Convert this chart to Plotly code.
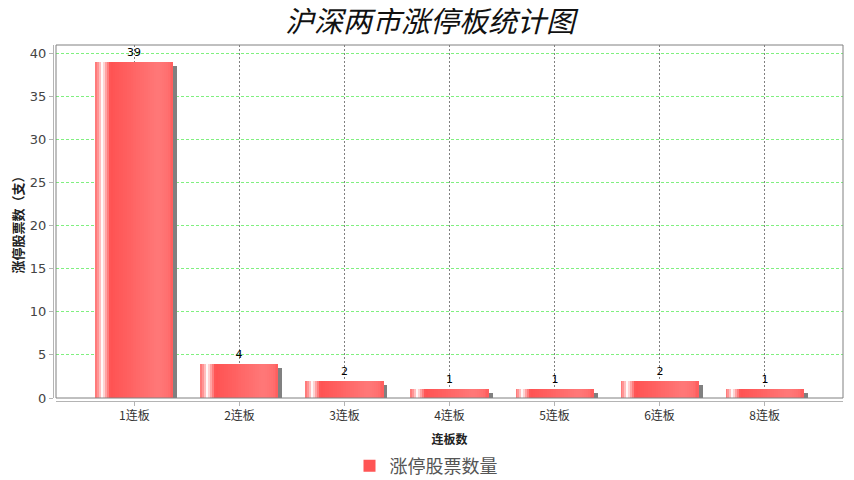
import plotly.graph_objects as go

# data
categories = ["1连板", "2连板", "3连板", "4连板", "5连板", "6连板", "8连板"]
counts = [39, 4, 2, 1, 1, 2, 1]
series_name = "涨停股票数量"
y_ticks = [0, 5, 10, 15, 20, 25, 30, 35, 40]

BAR_W = 0.743
BASE_RED = "#FF5555"
CJK = "Noto Sans CJK SC"
# the page body adds an 8px margin, so the figure is 8px smaller each way
FIG_W, FIG_H = 846, 472

# horizontal gradient of the bar face (fraction across bar -> rgb)
grad_stops = [
    (0.00, (255, 110, 110)),
    (0.05, (255, 160, 160)),
    (0.09, (255, 255, 255)),
    (0.13, (255, 175, 175)),
    (0.19, (255, 82, 82)),
    (0.80, (255, 120, 120)),
    (0.92, (255, 112, 112)),
    (1.00, (255, 92, 92)),
]


def grad_color(f):
    for (f0, c0), (f1, c1) in zip(grad_stops, grad_stops[1:]):
        if f0 <= f <= f1:
            t = (f - f0) / (f1 - f0) if f1 > f0 else 0
            r, g, b = (round(a + (b_ - a) * t) for a, b_ in zip(c0, c1))
            return f"rgb({r},{g},{b})"
    return BASE_RED


fig = go.Figure()

# drop shadow (shifted right and down a few pixels)
fig.add_trace(go.Bar(
    x=categories, y=counts,
    base=-0.464,
    width=BAR_W, offset=-BAR_W / 2 + 0.038,
    marker=dict(color="#808080", line=dict(width=0)),
    showlegend=False, hoverinfo="skip",
))

# main bar: legend entry + value labels
fig.add_trace(go.Bar(
    x=categories, y=counts, name=series_name,
    width=BAR_W, offset=-BAR_W / 2,
    marker=dict(color=BASE_RED, line=dict(width=0)),
    text=[str(v) for v in counts], textposition="outside",
    textfont=dict(family="DejaVu Sans", size=11, color="#000000"),
    cliponaxis=False,
))

# gradient strips painted over the main bar
n_strips = 40
step = BAR_W / n_strips
for i in range(n_strips):
    off = -BAR_W / 2 + i * step
    w = min(step * 1.6, BAR_W / 2 - off)
    fig.add_trace(go.Bar(
        x=categories, y=counts,
        width=w, offset=off,
        marker=dict(color=grad_color((i + 0.5) / n_strips), line=dict(width=0)),
        showlegend=False, hoverinfo="skip",
    ))

fig.update_layout(
    width=FIG_W, height=FIG_H,
    paper_bgcolor="white", plot_bgcolor="white",
    barmode="overlay", bargap=0,
    margin=dict(l=45, r=11, t=37, b=79, autoexpand=False),
    title=dict(
        text="<i>沪深两市涨停板统计图</i>",
        x=422 / FIG_W, xanchor="center", xref="container",
        y=1 - 14 / FIG_H, yanchor="middle", yref="container",
        font=dict(family=CJK, size=29, color="#111111"),
        automargin=False,
    ),
    legend=dict(
        orientation="h",
        x=418 / FIG_W, xanchor="center", xref="container",
        y=1 - 458 / FIG_H, yanchor="middle", yref="container",
        font=dict(family=CJK, size=18, color="#555555"),
        itemwidth=30,
    ),
    xaxis=dict(
        domain=[3 / 790, 1],
        anchor="free", position=0,
        range=[-0.747, 6.747],
        automargin=False,
        showgrid=True, gridcolor="#808080", griddash="2px,2px", gridwidth=1,
        showline=True, linecolor="#b4b4b4", linewidth=1,
        ticks="outside", ticklen=4, tickcolor="#b4b4b4",
        tickfont=dict(family=CJK, size=12, color="#333333"),
        title=dict(text="<b>连板数</b>", standoff=13,
                   font=dict(family=CJK, size=12, color="#222222")),
        zeroline=False, fixedrange=True,
    ),
    yaxis=dict(
        domain=[3 / 356, 1],
        anchor="free", position=0,
        range=[0, 40.93],
        automargin=False,
        tickvals=y_ticks,
        showgrid=True, gridcolor="#80f080", griddash="3px,2px", gridwidth=1,
        showline=True, linecolor="#b4b4b4", linewidth=1,
        ticks="outside", ticklen=4, tickcolor="#b4b4b4",
        tickfont=dict(family="DejaVu Sans", size=13, color="#444444"),
        title=dict(text="<b>涨停股票数（支）</b>", standoff=3,
                   font=dict(family=CJK, size=13, color="#222222")),
        zeroline=False, fixedrange=True,
    ),
    shapes=[dict(
        type="rect", xref="x domain", yref="y domain",
        x0=0, x1=1, y0=0, y1=1,
        line=dict(color="#808080", width=1), layer="above",
    )],
)

fig.write_html("out.html")
